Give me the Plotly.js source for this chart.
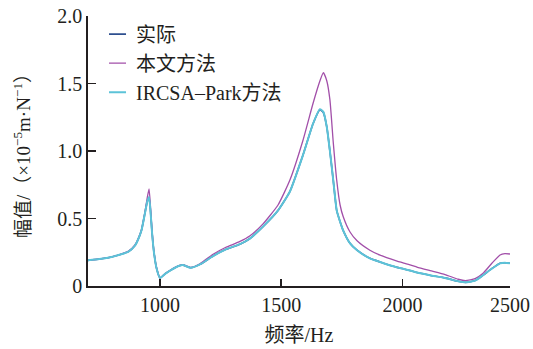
<!DOCTYPE html>
<html>
<head>
<meta charset="utf-8">
<script src="https://cdn.plot.ly/plotly-3.0.1.min.js"></script>
<style>html,body{margin:0;padding:0;background:#fff;}#chart{width:533px;height:349px;}</style>
</head>
<body>
<div id="chart"></div>
<script>
// Frequency (Hz)
const freq = [703, 750, 800, 840, 870, 897, 911, 924, 938, 948, 955, 961, 967, 975, 986, 1000, 1021, 1045, 1080, 1095, 1127, 1165, 1219, 1270, 1330, 1370, 1425, 1487, 1536, 1590, 1631, 1660, 1674, 1688, 1701, 1715, 1729, 1743, 1756, 1784, 1813, 1866, 1908, 1978, 2003, 2060, 2114, 2176, 2230, 2260, 2300, 2333, 2370, 2403, 2423, 2444];
// Amplitude (×10^-5 m·N^-1)
const actual = [0.19, 0.20, 0.215, 0.235, 0.255, 0.30, 0.35, 0.415, 0.54, 0.63, 0.655, 0.55, 0.40, 0.25, 0.13, 0.06, 0.09, 0.118, 0.15, 0.155, 0.135, 0.16, 0.222, 0.27, 0.31, 0.35, 0.44, 0.56, 0.70, 0.97, 1.20, 1.305, 1.285, 1.18, 1.00, 0.78, 0.56, 0.476, 0.41, 0.316, 0.265, 0.205, 0.178, 0.138, 0.128, 0.10, 0.08, 0.06, 0.035, 0.027, 0.04, 0.08, 0.13, 0.168, 0.172, 0.168];
const proposed = [0.19, 0.20, 0.215, 0.237, 0.258, 0.305, 0.355, 0.42, 0.55, 0.66, 0.72, 0.58, 0.42, 0.26, 0.135, 0.062, 0.092, 0.12, 0.152, 0.158, 0.138, 0.165, 0.235, 0.285, 0.33, 0.37, 0.46, 0.60, 0.785, 1.08, 1.35, 1.52, 1.58, 1.52, 1.38, 1.06, 0.785, 0.60, 0.513, 0.40, 0.335, 0.265, 0.228, 0.185, 0.172, 0.14, 0.114, 0.085, 0.05, 0.04, 0.055, 0.094, 0.17, 0.23, 0.24, 0.237];
const ircsa = [0.19, 0.20, 0.215, 0.235, 0.255, 0.30, 0.35, 0.415, 0.54, 0.63, 0.66, 0.55, 0.40, 0.25, 0.13, 0.06, 0.09, 0.118, 0.15, 0.155, 0.135, 0.16, 0.222, 0.27, 0.31, 0.35, 0.44, 0.56, 0.70, 0.97, 1.20, 1.31, 1.29, 1.18, 1.00, 0.78, 0.56, 0.476, 0.41, 0.316, 0.265, 0.205, 0.178, 0.138, 0.128, 0.10, 0.08, 0.06, 0.035, 0.027, 0.04, 0.08, 0.13, 0.168, 0.172, 0.168];
const seriesNames = ['实际', '本文方法', 'IRCSA–Park方法'];
const xTickVals = [1000, 1500, 2000, 2444];
const xTickText = ['1000', '1500', '2000', '2500'];
const yTickVals = [0, 0.5, 1.0, 1.5, 2.0];
const yTickText = ['0', '0.5', '1.0', '1.5', '2.0'];

const FONT = 'Liberation Serif, "Noto Sans CJK SC", serif';
const ink = '#231f20';

const traces = [
  {x: freq, y: actual, name: seriesNames[0], mode: 'lines', line: {color: '#2e4f8f', width: 1.6, shape: 'spline', smoothing: 0.5}},
  {x: freq, y: proposed, name: seriesNames[1], mode: 'lines', line: {color: '#a24fa9', width: 1.3, shape: 'spline', smoothing: 0.5}},
  {x: freq, y: ircsa, name: seriesNames[2], mode: 'lines', line: {color: '#5cc3d8', width: 2, shape: 'spline', smoothing: 0.5}}
];

const layout = {
  width: 533, height: 349,
  margin: {l: 88, r: 23, t: 16, b: 63},
  paper_bgcolor: '#fff', plot_bgcolor: '#fff',
  font: {family: FONT, size: 20, color: ink},
  showlegend: true,
  legend: {x: 0.019, y: 1.005, xanchor: 'left', yanchor: 'top', bgcolor: 'rgba(0,0,0,0)', borderwidth: 0, font: {family: FONT, size: 20, color: ink}, tracegroupgap: 0},
  xaxis: {
    range: [703, 2444], showgrid: false, zeroline: false, showline: true, linecolor: ink, linewidth: 1.8,
    ticks: 'inside', ticklen: 7, tickwidth: 1.5, tickcolor: ink,
    tickvals: xTickVals, ticktext: xTickText, tickfont: {family: FONT, size: 20, color: ink},
    title: {text: '频率/Hz', font: {family: FONT, size: 20, color: ink}, standoff: 13}
  },
  yaxis: {
    range: [0, 2], showgrid: false, zeroline: false, showline: true, linecolor: ink, linewidth: 1.8,
    ticks: 'inside', ticklen: 8, tickwidth: 1.5, tickcolor: ink,
    tickvals: yTickVals, ticktext: yTickText, tickfont: {family: FONT, size: 20, color: ink},
    title: {text: '幅值/（×10<sup>−5</sup>m·N<sup>−1</sup>）', font: {family: FONT, size: 19, color: ink}, standoff: 21}
  }
};

Plotly.newPlot('chart', traces, layout, {staticPlot: true, displayModeBar: false}).then(function (gd) {
  gd.querySelectorAll('.legendlines path').forEach(function (p) { p.setAttribute('d', 'M13,0h17'); });
});
</script>
</body>
</html>
